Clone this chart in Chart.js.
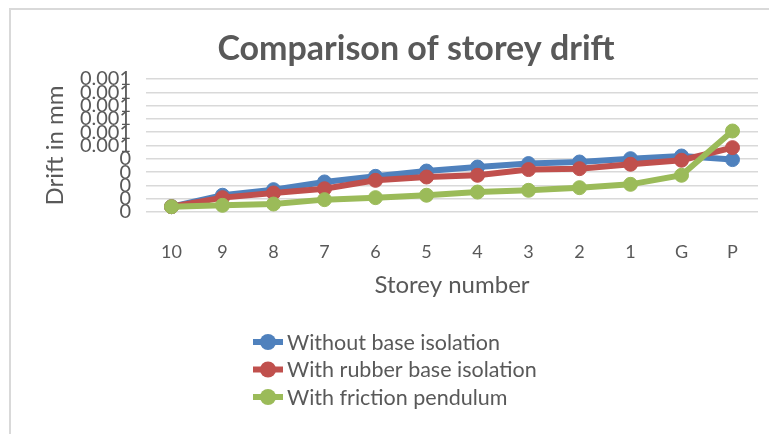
<!DOCTYPE html>
<html>
<head>
<meta charset="utf-8">
<script src="https://cdn.jsdelivr.net/npm/chart.js@4.4.1/dist/chart.umd.min.js"></script>
<style>
  html, body { margin: 0; padding: 0; background: #fff; overflow: hidden; }
  .frame {
    position: absolute; left: 9px; top: 8px; width: 900px; height: 600px;
    border-left: 2px solid #d9d9d9; border-top: 2px solid #d9d9d9;
  }
  .main-canvas { position: absolute; left: 0; top: 0; }
</style>
</head>
<body>
<div class="frame"></div>
<canvas class="main-canvas" width="769" height="434"></canvas>
<script>
const storeys = ["10", "9", "8", "7", "6", "5", "4", "3", "2", "1", "G", "P"];
const withoutIsolation = [0.00004, 0.000126, 0.000168, 0.000226, 0.000268, 0.000308, 0.000338, 0.000364, 0.000376, 0.000401, 0.000421, 0.000394];
const rubberIsolation = [0.00004, 0.000108, 0.000143, 0.000175, 0.000238, 0.000263, 0.000276, 0.000319, 0.000326, 0.000359, 0.000389, 0.000484];
const frictionPendulum = [0.00004, 0.00005, 0.00006, 0.000093, 0.000108, 0.000126, 0.00015, 0.000163, 0.000183, 0.000208, 0.000276, 0.000609];
const seriesNames = ["Without base isolation", "With rubber base isolation", "With friction pendulum"];
const seriesColors = ["#4f81bd", "#c0504d", "#9bbb59"];

const textColor = "#595959";
const fontFamily = "Lato, 'Open Sans', sans-serif";

// legend drawn one entry per line, like the original
const stackedLegend = {
  id: "stackedLegend",
  afterDraw(chart) {
    const ctx = chart.ctx;
    ctx.save();
    chart.data.datasets.forEach((ds, i) => {
      const y = 342 + i * 27.5;
      ctx.strokeStyle = ds.borderColor;
      ctx.lineWidth = 6;
      ctx.beginPath();
      ctx.moveTo(253, y);
      ctx.lineTo(283, y);
      ctx.stroke();
      ctx.fillStyle = ds.borderColor;
      ctx.beginPath();
      ctx.arc(268, y, 8, 0, Math.PI * 2);
      ctx.fill();
      ctx.fillStyle = textColor;
      ctx.font = "21.5px " + fontFamily;
      ctx.textBaseline = "middle";
      ctx.textAlign = "left";
      ctx.fillText(ds.label, 287, y + 1);
    });
    ctx.restore();
  },
};

const ctx = document.querySelector(".main-canvas").getContext("2d");
const series = [withoutIsolation, rubberIsolation, frictionPendulum];

new Chart(ctx, {
  type: "line",
  data: {
    labels: storeys,
    datasets: series.map((values, i) => ({
      label: seriesNames[i],
      data: values,
      borderColor: seriesColors[i],
      backgroundColor: seriesColors[i],
      pointBackgroundColor: seriesColors[i],
      pointBorderColor: seriesColors[i],
      borderWidth: 6,
      pointRadius: 7,
      pointBorderWidth: 1,
      tension: 0,
      clip: false,
      order: 3 - i,
    })),
  },
  options: {
    responsive: false,
    animation: false,
    devicePixelRatio: 1,
    // left padding shifts the title centre to match the cropped original
    layout: { padding: { left: 74, right: 11, top: 0, bottom: 127 } },
    plugins: {
      legend: { display: false },
      tooltip: { enabled: false },
      title: {
        display: true,
        text: "Comparison of storey drift",
        color: textColor,
        font: { family: fontFamily, size: 34, weight: "bold" },
        padding: { top: 28.6, bottom: 9.6 },
      },
    },
    scales: {
      x: {
        offset: true,
        grid: { display: false },
        border: { display: false },
        ticks: {
          autoSkip: false,
          maxRotation: 0,
          color: textColor,
          padding: 21,
          font: { family: fontFamily, size: 18 },
        },
        title: {
          display: true,
          text: "Storey number",
          color: textColor,
          font: { family: fontFamily, size: 24 },
          padding: { top: 0, bottom: 7.6 },
        },
        afterFit(scale) { scale.height = 95; },
      },
      y: {
        min: 0,
        max: 0.001,
        border: { display: false },
        grid: { color: "#d9d9d9", lineWidth: 1.5, drawTicks: false },
        ticks: {
          stepSize: 0.0001,
          autoSkip: false,
          color: textColor,
          padding: 15,
          font: { family: fontFamily, size: 20 },
          callback: (v) => String(Math.round(Math.round(v * 10000) / 10) / 1000),
        },
        title: {
          display: true,
          text: "Drift in mm",
          color: textColor,
          font: { family: fontFamily, size: 24 },
          padding: { top: -33.4, bottom: 0 },
        },
        afterFit(scale) { scale.width = 72; },
      },
    },
  },
  plugins: [stackedLegend],
});
</script>
</body>
</html>
